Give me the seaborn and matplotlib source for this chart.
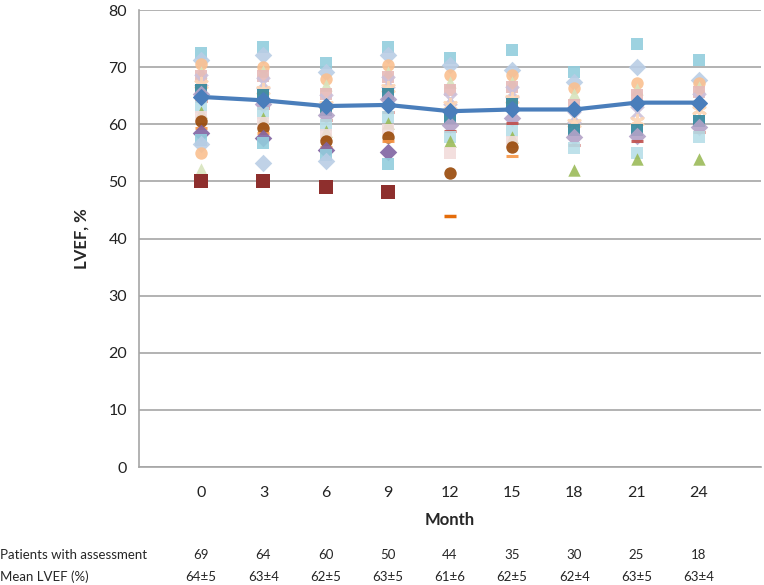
import numpy as np
import pandas as pd
import seaborn as sns
import matplotlib.pyplot as plt
from matplotlib.transforms import blended_transform_factory

# meses e valores
months = [0, 3, 6, 9, 12, 15, 18, 21, 24]
mean_lvef = [64.8, 64.2, 63.2, 63.4, 62.3, 62.6, 62.6, 63.8, 63.8]
n_assessed = [69, 64, 60, 50, 44, 35, 30, 25, 18]
mean_sd = ["64±5", "63±4", "62±5", "63±5", "61±6", "62±5", "62±4", "63±5", "63±4"]

# LVEF individual por mes (estimado)
lvef_m0 = [72.5, 71.3, 70.5, 69.2, 68.5, 67.8, 67.0, 66.0, 65.3, 64.0, 63.1, 62.2, 61.3, 60.5, 59.4, 58.5, 57.3, 56.5, 55.0, 52.2, 50.0]
lvef_m3 = [73.6, 72.1, 70.1, 69.3, 68.4, 67.2, 66.0, 65.2, 63.5, 62.8, 62.0, 61.1, 60.2, 59.4, 58.5, 57.6, 56.7, 53.3, 50.0]
lvef_m6 = [70.7, 69.2, 68.0, 66.9, 65.4, 64.2, 63.3, 62.5, 61.6, 60.8, 59.8, 58.9, 58.1, 57.0, 56.0, 55.5, 54.6, 53.5, 49.1]
lvef_m9 = [73.6, 72.1, 70.4, 69.2, 68.3, 67.5, 66.4, 65.4, 64.4, 62.2, 61.2, 60.2, 59.0, 57.8, 57.0, 55.2, 53.0, 48.2, 47.4]
lvef_m12 = [71.6, 70.4, 68.6, 67.4, 66.0, 64.5, 63.3, 61.1, 59.9, 58.8, 57.8, 57.0, 55.0, 51.5, 44.0]
lvef_m15 = [73.0, 69.5, 68.6, 67.5, 66.5, 65.7, 64.5, 63.5, 61.1, 60.2, 58.9, 57.8, 56.9, 56.1, 54.5]
lvef_m18 = [69.2, 67.5, 66.3, 65.4, 63.4, 61.3, 60.3, 59.0, 57.8, 56.4, 55.9, 52.0]
lvef_m21 = [74.1, 70.1, 67.2, 66.2, 65.1, 62.2, 60.5, 59.0, 58.0, 57.0, 55.0, 54.0]
lvef_m24 = [71.3, 67.8, 67.2, 66.5, 65.7, 64.5, 62.5, 60.5, 59.6, 58.7, 57.8, 54.0]
lvef_all = [lvef_m0, lvef_m3, lvef_m6, lvef_m9, lvef_m12, lvef_m15, lvef_m18, lvef_m21, lvef_m24]

# cores e marcadores estilo Excel (ciclo por paciente)
cores = ["#93CDDD", "#B9CDE5", "#FAC090", "#D7E4BD", "#E6B9B8", "#CCC1DA",
         "#FCD5B5", "#31859C", "#B3A2C7", "#C0504D", "#B7DEE8", "#9BBB59",
         "#F2DCDB", "#984807", "#F79646", "#8064A2"]
marcadores = ["s", "D", "o", "^", "s", "x", (6, 2, 0), "s", "D", "_", "s", "^", "s", "o", "_", "D"]

linhas = []
for i, vals in enumerate(lvef_all):
    for j, v in enumerate(vals):
        linhas.append({"pos": i, "lvef": v, "k": j})
df = pd.DataFrame(linhas)

sns.set_style("white")
plt.rcParams["font.family"] = ["Lato", "DejaVu Sans"]

fig = plt.figure(figsize=(7.64, 5.85), dpi=100)
ax = fig.add_axes([0.182, 0.2017, 0.814, 0.781])

for k in sorted(df["k"].unique()):
    sub = df[df["k"] == k]
    quadrado = sub[(sub["lvef"] <= 50.5) & (sub["lvef"] > 47.9)]
    traco = sub[sub["lvef"] <= 47.9]
    resto = sub[sub["lvef"] > 50.5]
    mk = marcadores[k % len(marcadores)]
    cor = cores[k % len(cores)]
    lw = 2.2 if mk in ["x", "_", (6, 2, 0)] else 0
    sns.scatterplot(x=resto["pos"], y=resto["lvef"], marker=mk, color=cor, s=80,
                    linewidth=lw, edgecolor=cor, alpha=0.9, ax=ax, legend=False, zorder=3)
    if len(quadrado):
        sns.scatterplot(x=quadrado["pos"], y=quadrado["lvef"], marker="s", color="#8E2F2D", s=90,
                        linewidth=0, ax=ax, legend=False, zorder=3)
    if len(traco):
        sns.scatterplot(x=traco["pos"], y=traco["lvef"], marker="_", color="#E46C0A", s=70,
                        linewidth=2.5, ax=ax, legend=False, zorder=2)

# linha da media
df_media = pd.DataFrame({"pos": range(len(months)), "media": mean_lvef})
sns.lineplot(data=df_media, x="pos", y="media", color="#4A7EBB", linewidth=3,
             marker="D", markersize=8, markeredgecolor="#4A7EBB", ax=ax, zorder=5)

ax.set_xlim(-1, 9)
ax.set_ylim(0, 80)
ax.set_yticks(range(0, 81, 10))
ax.yaxis.grid(True, color="#A6A6A6", linewidth=1.2)
ax.set_axisbelow(True)
ax.set_xticks(range(-1, 10))
ax.set_xticklabels([""] + [str(m) for m in months] + [""])
for s in ["top", "right"]:
    ax.spines[s].set_visible(False)
for s in ["left", "bottom"]:
    ax.spines[s].set_color("#A6A6A6")
    ax.spines[s].set_linewidth(1.2)
ax.tick_params(axis="both", direction="out", length=5, color="#A6A6A6", width=1.2,
               labelsize=11.5, labelcolor="#222222")
ax.tick_params(axis="x", pad=9)
ax.set_xlabel("Month", fontsize=12, fontweight="bold", labelpad=8)
ax.set_ylabel("LVEF, %", fontsize=12, fontweight="bold", labelpad=14)

# tabela abaixo do eixo
trans = blended_transform_factory(ax.transData, fig.transFigure)
fig.text(0.0, 1 - 555 / 585, "Patients with assessment", fontsize=9.5, va="center", ha="left")
fig.text(0.0, 1 - 577 / 585, "Mean LVEF (%)", fontsize=9.5, va="center", ha="left")
for i in range(len(months)):
    ax.text(i, 1 - 555 / 585, str(n_assessed[i]), transform=trans, fontsize=9.5, ha="center", va="center")
    ax.text(i, 1 - 577 / 585, mean_sd[i], transform=trans, fontsize=9.5, ha="center", va="center")

fig.savefig("out.png", dpi=100)
